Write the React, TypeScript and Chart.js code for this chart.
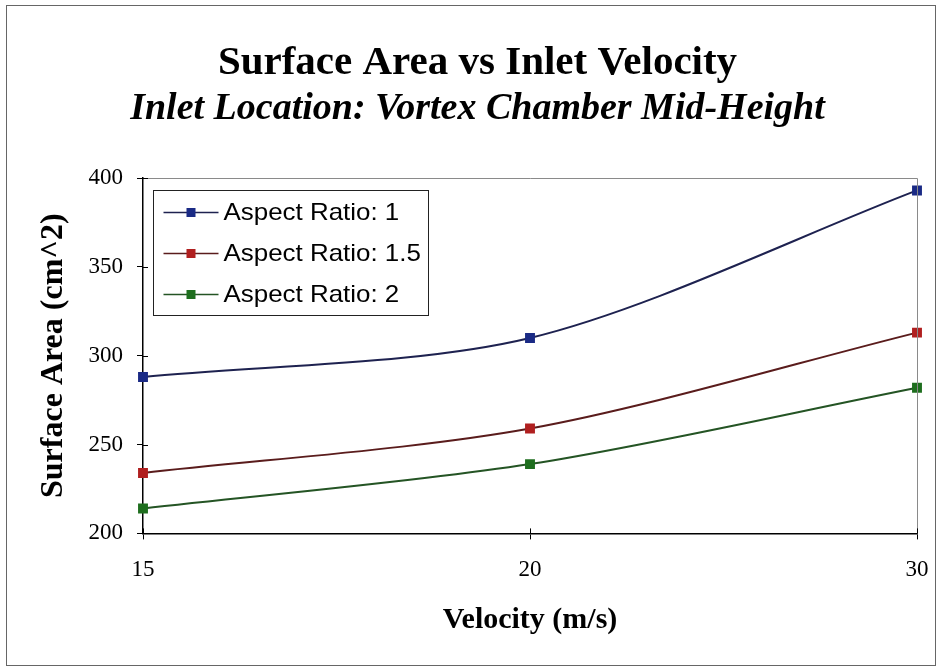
import React, { useEffect, useRef } from "react";
import { Chart, registerables } from "chart.js";

Chart.register(...registerables);

const velocities = ["15", "20", "30"];
const seriesNames = ["Aspect Ratio: 1", "Aspect Ratio: 1.5", "Aspect Ratio: 2"];
const ratio1 = [288, 310, 393];
const ratio15 = [234, 259, 313];
const ratio2 = [214, 239, 282];
const yTicks = [200, 250, 300, 350, 400];

const SERIF = '"Times New Roman", "Liberation Serif", serif';
const SANS = 'Arial, "Liberation Sans", sans-serif';

const lineColors = ["#1e2250", "#5a1c1c", "#245424"];
const markerColors = ["#1a2a85", "#b01f1f", "#1e6e1e"];

const framePlugin = {
  id: "frameAndLegend",
  afterDraw(chart: any) {
    const { ctx, chartArea } = chart;
    const { left, right, top, bottom } = chartArea;
    ctx.save();
    // outer frame
    ctx.strokeStyle = "#666";
    ctx.lineWidth = 1;
    ctx.strokeRect(6.5, 5.5, 929, 660);
    // plot area top/right border
    ctx.strokeStyle = "#8a8a8a";
    ctx.beginPath();
    ctx.moveTo(left, top + 0.5);
    ctx.lineTo(right + 0.5, top + 0.5);
    ctx.lineTo(right + 0.5, bottom);
    ctx.stroke();
    // inner tick marks (crossing ticks)
    ctx.strokeStyle = "#000";
    ctx.lineWidth = 1;
    const ys = chart.scales.y;
    const xs = chart.scales.x;
    ys.ticks.forEach((t: any) => {
      const py = Math.round(ys.getPixelForValue(t.value)) + 0.5;
      ctx.beginPath();
      ctx.moveTo(left, py);
      ctx.lineTo(left + 5, py);
      ctx.stroke();
    });
    xs.ticks.forEach((_t: any, i: number) => {
      const px = Math.round(xs.getPixelForValue(i)) + 0.5;
      ctx.beginPath();
      ctx.moveTo(px, bottom);
      ctx.lineTo(px, bottom - 5);
      ctx.stroke();
    });
    // legend
    const bx = left + 10.5;
    const by = top + 12.5;
    const bw = 275;
    const bh = 125;
    ctx.fillStyle = "#fff";
    ctx.fillRect(bx, by, bw, bh);
    ctx.strokeStyle = "#222";
    ctx.lineWidth = 1;
    ctx.strokeRect(bx, by, bw, bh);
    chart.data.datasets.forEach((ds: any, i: number) => {
      const cy = by + 22 + i * 41;
      ctx.strokeStyle = ds.borderColor;
      ctx.lineWidth = 1.5;
      ctx.beginPath();
      ctx.moveTo(bx + 10, cy);
      ctx.lineTo(bx + 65, cy);
      ctx.stroke();
      ctx.fillStyle = ds.pointBackgroundColor;
      ctx.fillRect(bx + 33, cy - 4.5, 9, 9);
      ctx.fillStyle = "#000";
      ctx.font = `24px ${SANS}`;
      ctx.textBaseline = "middle";
      ctx.textAlign = "left";
      ctx.save();
      ctx.translate(bx + 70, cy + 1);
      ctx.scale(1.08, 1);
      ctx.fillText(ds.label, 0, 0);
      ctx.restore();
    });
    ctx.restore();
  },
};

export default function App() {
  const ref = useRef<HTMLCanvasElement | null>(null);
  useEffect(() => {
    document.body.style.margin = "0";
    const canvas = ref.current;
    if (!canvas) return;
    const series = [ratio1, ratio15, ratio2];
    const chart = new Chart(canvas, {
      type: "line",
      data: {
        labels: velocities,
        datasets: series.map((d, i) => ({
          label: seriesNames[i],
          data: d,
          borderColor: lineColors[i],
          borderWidth: 2,
          tension: 0.3,
          pointStyle: "rect",
          pointRadius: 7,
          pointHoverRadius: 7,
          pointBorderWidth: 0,
          pointBackgroundColor: markerColors[i],
          pointBorderColor: markerColors[i],
          fill: false,
        })),
      },
      options: {
        responsive: false,
        animation: false,
        devicePixelRatio: 1,
        layout: { padding: { left: 38, right: 24, top: 0, bottom: 20 } },
        plugins: {
          legend: { display: false },
          tooltip: { enabled: false },
          title: {
            display: true,
            text: "Surface Area vs Inlet Velocity",
            color: "#000",
            font: { family: SERIF, size: 41, weight: "bold", lineHeight: 1 },
            padding: { top: 43, bottom: 5 },
          },
          subtitle: {
            display: true,
            text: "Inlet Location: Vortex Chamber Mid-Height",
            color: "#000",
            font: { family: SERIF, size: 38, weight: "bold", style: "italic", lineHeight: 1 },
            padding: { top: 1, bottom: 50 },
          },
        },
        scales: {
          x: {
            type: "category",
            offset: false,
            afterFit: (scale: any) => {
              scale.paddingLeft = 0;
              scale.paddingRight = 0;
            },
            grid: { drawOnChartArea: false, drawTicks: true, tickLength: 6, color: "#000" },
            border: { display: true, color: "#000", width: 1.5 },
            ticks: { color: "#000", padding: 17, font: { family: SERIF, size: 23 }, maxRotation: 0 },
            title: {
              display: true,
              text: "Velocity (m/s)",
              color: "#000",
              font: { family: SERIF, size: 30, weight: "bold", lineHeight: 1.2 },
              padding: { top: 1, bottom: 11 },
            },
          },
          y: {
            min: 200,
            max: 400,
            afterBuildTicks: (scale: any) => {
              scale.ticks = yTicks.map((v) => ({ value: v }));
            },
            grid: { drawOnChartArea: false, drawTicks: true, tickLength: 6, color: "#000" },
            border: { display: true, color: "#000", width: 1.5 },
            ticks: { color: "#000", padding: 14, font: { family: SERIF, size: 23 } },
            title: {
              display: true,
              text: "Surface Area (cm^2)",
              color: "#000",
              font: { family: SERIF, size: 32, weight: "bold", lineHeight: 1 },
              padding: { top: 0, bottom: 4.5 },
            },
          },
        },
      },
      plugins: [framePlugin],
    });
    return () => chart.destroy();
  }, []);
  return <canvas ref={ref} width={941} height={669} style={{ display: "block" }} />;
}
